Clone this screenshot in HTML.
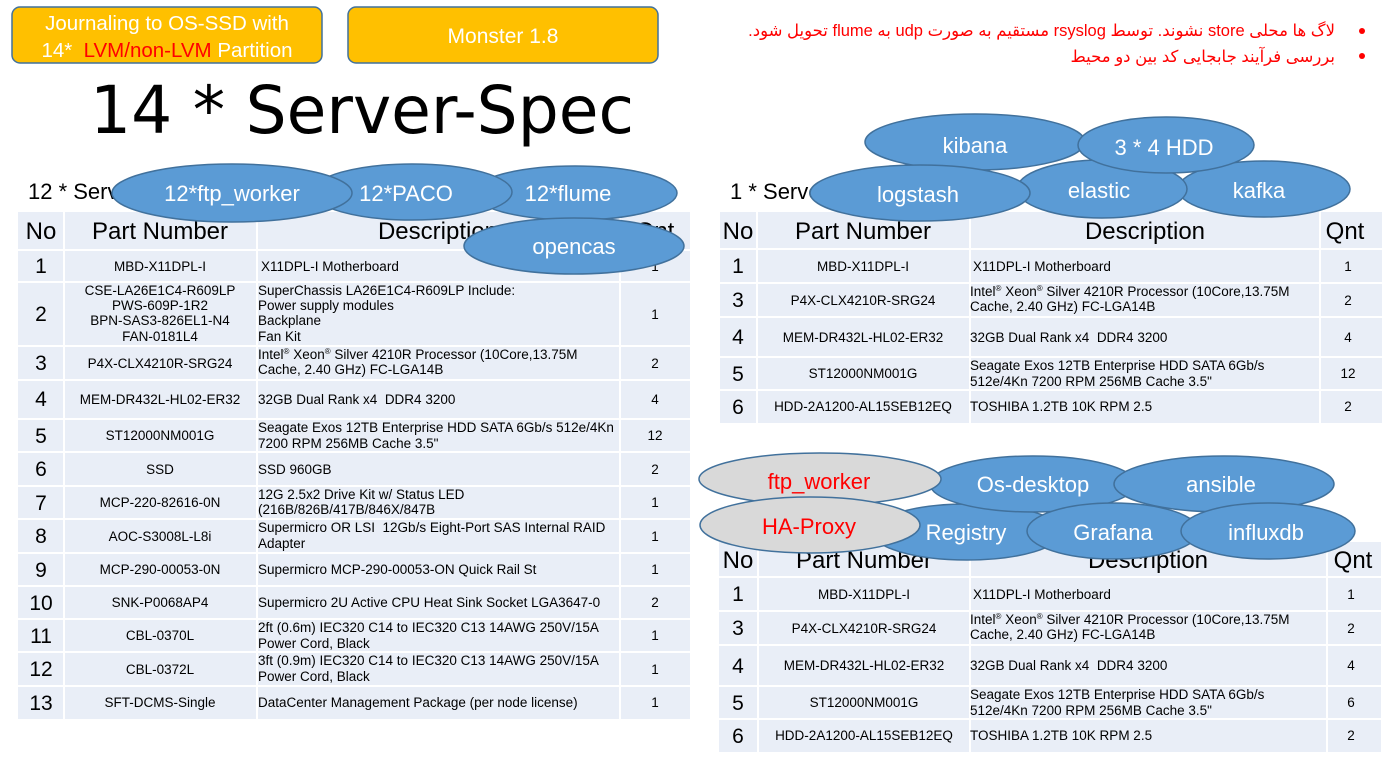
<!DOCTYPE html>
<html><head><meta charset="utf-8">
<style>
html,body{margin:0;padding:0;background:#fff;}
body{width:1396px;height:761px;position:relative;overflow:hidden;}
svg{position:absolute;left:0;top:0;}
svg text{font-family:"Liberation Sans",sans-serif;fill:#000;white-space:pre;}
.pn{font-size:13.5px;text-anchor:middle}
.d{font-size:13.5px}
.q{font-size:13.5px;text-anchor:middle}
.n{font-size:21px;text-anchor:middle}
.h{font-size:24px;text-anchor:middle}
.el{fill:#5B9BD5;stroke:#41719C;stroke-width:1.5}
.gr{fill:#D9D9D9;stroke:#41719C;stroke-width:1.5}
svg text.et{font-size:22px;fill:#fff;text-anchor:middle}
svg text.er{font-size:22px;fill:#FF0000;text-anchor:middle}
.fa{position:absolute;right:61px;top:18px;direction:rtl;text-align:right;color:#FF0000;
 font-family:"Liberation Sans","DejaVu Sans",sans-serif;font-size:16.5px;line-height:26px;white-space:nowrap;}
</style></head>
<body>
<svg width="1396" height="761" viewBox="0 0 1396 761" xmlns="http://www.w3.org/2000/svg">
<!-- top boxes -->
<rect x="12" y="7" width="310" height="56" rx="8" fill="#FFC000" stroke="#41719C" stroke-width="1.5"/>
<text x="167" y="30" text-anchor="middle" style="font-size:20.5px;fill:#fff">Journaling to OS-SSD with</text>
<text x="167" y="57" text-anchor="middle" style="font-size:20.5px;fill:#fff"><tspan style="fill:#fff">14*  </tspan><tspan style="fill:#FF0000">LVM/non-LVM</tspan><tspan style="fill:#fff"> Partition</tspan></text>
<rect x="348" y="7" width="310" height="56" rx="8" fill="#FFC000" stroke="#41719C" stroke-width="1.5"/>
<text x="503" y="43" text-anchor="middle" style="font-size:21px;fill:#fff">Monster 1.8</text>

<!-- title -->
<text x="90" y="133" style="font-family:'DejaVu Sans',sans-serif;font-size:66px" textLength="544" lengthAdjust="spacingAndGlyphs">14 * Server-Spec</text>

<!-- bullets -->
<circle cx="1362" cy="31" r="3" fill="#FF0000"/>
<circle cx="1362" cy="56" r="3" fill="#FF0000"/>

<!-- subtitles -->
<text x="28" y="199" style="font-size:22px">12 * Server</text>
<text x="730" y="199" style="font-size:22px">1 * Server</text>

<!-- LEFT TABLE -->
<rect x="18" y="212" width="672" height="507" fill="#E9EEF7"/>
<g stroke="#fff" stroke-width="2">
<line x1="64" y1="212" x2="64" y2="719"/><line x1="257" y1="212" x2="257" y2="719"/><line x1="620" y1="212" x2="620" y2="719"/>
<line x1="18" y1="250" x2="690" y2="250"/><line x1="18" y1="282" x2="690" y2="282"/><line x1="18" y1="346" x2="690" y2="346"/>
<line x1="18" y1="380" x2="690" y2="380"/><line x1="18" y1="419" x2="690" y2="419"/><line x1="18" y1="452" x2="690" y2="452"/>
<line x1="18" y1="486" x2="690" y2="486"/><line x1="18" y1="519" x2="690" y2="519"/><line x1="18" y1="553" x2="690" y2="553"/>
<line x1="18" y1="586" x2="690" y2="586"/><line x1="18" y1="619" x2="690" y2="619"/><line x1="18" y1="652" x2="690" y2="652"/>
<line x1="18" y1="686" x2="690" y2="686"/>
</g>
<text class="h" x="41" y="239">No</text><text class="h" x="160" y="239">Part Number</text><text class="h" x="438" y="239">Description</text><text class="h" x="655" y="239">Qnt</text>
<!-- r1 -->
<text class="n" x="41" y="273">1</text><text class="pn" x="160" y="271">MBD-X11DPL-I</text><text class="d" x="261" y="271">X11DPL-I Motherboard</text><text class="q" x="655" y="271">1</text>
<!-- r2 -->
<text class="n" x="41" y="321">2</text>
<text class="pn" x="160" y="295">CSE-LA26E1C4-R609LP</text><text class="pn" x="160" y="310">PWS-609P-1R2</text><text class="pn" x="160" y="325">BPN-SAS3-826EL1-N4</text><text class="pn" x="160" y="341">FAN-0181L4</text>
<text class="d" x="258" y="295">SuperChassis LA26E1C4-R609LP Include:</text><text class="d" x="258" y="310">Power supply modules</text><text class="d" x="258" y="325">Backplane</text><text class="d" x="258" y="341">Fan Kit</text>
<text class="q" x="655" y="319">1</text>
<!-- r3 -->
<text class="n" x="41" y="370">3</text><text class="pn" x="160" y="368">P4X-CLX4210R-SRG24</text>
<text class="d" x="258" y="359">Intel<tspan font-size="8" dy="-5">®</tspan><tspan dy="5"> Xeon</tspan><tspan font-size="8" dy="-5">®</tspan><tspan dy="5"> Silver 4210R Processor (10Core,13.75M</tspan></text>
<text class="d" x="258" y="374">Cache, 2.40 GHz) FC-LGA14B</text>
<text class="q" x="655" y="368">2</text>
<!-- r4 -->
<text class="n" x="41" y="406">4</text><text class="pn" x="160" y="404">MEM-DR432L-HL02-ER32</text><text class="d" x="258" y="404">32GB Dual Rank x4  DDR4 3200</text><text class="q" x="655" y="404">4</text>
<!-- r5 -->
<text class="n" x="41" y="443">5</text><text class="pn" x="160" y="440">ST12000NM001G</text>
<text class="d" x="258" y="432">Seagate Exos 12TB Enterprise HDD SATA 6Gb/s 512e/4Kn</text><text class="d" x="258" y="448">7200 RPM 256MB Cache 3.5"</text>
<text class="q" x="655" y="440">12</text>
<!-- r6 -->
<text class="n" x="41" y="476">6</text><text class="pn" x="160" y="474">SSD</text><text class="d" x="258" y="474">SSD 960GB</text><text class="q" x="655" y="474">2</text>
<!-- r7 -->
<text class="n" x="41" y="510">7</text><text class="pn" x="160" y="507">MCP-220-82616-0N</text>
<text class="d" x="258" y="499">12G 2.5x2 Drive Kit w/ Status LED</text><text class="d" x="258" y="514">(216B/826B/417B/846X/847B</text>
<text class="q" x="655" y="507">1</text>
<!-- r8 -->
<text class="n" x="41" y="543">8</text><text class="pn" x="160" y="541">AOC-S3008L-L8i</text>
<text class="d" x="258" y="532">Supermicro OR LSI  12Gb/s Eight-Port SAS Internal RAID</text><text class="d" x="258" y="548">Adapter</text>
<text class="q" x="655" y="541">1</text>
<!-- r9 -->
<text class="n" x="41" y="577">9</text><text class="pn" x="160" y="574">MCP-290-00053-0N</text><text class="d" x="258" y="574">Supermicro MCP-290-00053-ON Quick Rail St</text><text class="q" x="655" y="574">1</text>
<!-- r10 -->
<text class="n" x="41" y="610">10</text><text class="pn" x="160" y="607">SNK-P0068AP4</text><text class="d" x="258" y="607">Supermicro 2U Active CPU Heat Sink Socket LGA3647-0</text><text class="q" x="655" y="607">2</text>
<!-- r11 -->
<text class="n" x="41" y="643">11</text><text class="pn" x="160" y="640">CBL-0370L</text>
<text class="d" x="258" y="632">2ft (0.6m) IEC320 C14 to IEC320 C13 14AWG 250V/15A</text><text class="d" x="258" y="648">Power Cord, Black</text>
<text class="q" x="655" y="640">1</text>
<!-- r12 -->
<text class="n" x="41" y="676">12</text><text class="pn" x="160" y="674">CBL-0372L</text>
<text class="d" x="258" y="665">3ft (0.9m) IEC320 C14 to IEC320 C13 14AWG 250V/15A</text><text class="d" x="258" y="681">Power Cord, Black</text>
<text class="q" x="655" y="674">1</text>
<!-- r13 -->
<text class="n" x="41" y="710">13</text><text class="pn" x="160" y="707">SFT-DCMS-Single</text><text class="d" x="258" y="707">DataCenter Management Package (per node license)</text><text class="q" x="655" y="707">1</text>

<!-- RIGHT TABLE 1 -->
<rect x="720" y="212" width="662" height="211" fill="#E9EEF7"/>
<g stroke="#fff" stroke-width="2">
<line x1="757" y1="212" x2="757" y2="423"/><line x1="970" y1="212" x2="970" y2="423"/><line x1="1320" y1="212" x2="1320" y2="423"/>
<line x1="720" y1="249" x2="1382" y2="249"/><line x1="720" y1="283" x2="1382" y2="283"/><line x1="720" y1="317" x2="1382" y2="317"/>
<line x1="720" y1="357" x2="1382" y2="357"/><line x1="720" y1="390" x2="1382" y2="390"/>
</g>
<text class="h" x="738" y="239">No</text><text class="h" x="863" y="239">Part Number</text><text class="h" x="1145" y="239">Description</text><text class="h" x="1345" y="239">Qnt</text>
<text class="n" x="738" y="273">1</text><text class="pn" x="863" y="271">MBD-X11DPL-I</text><text class="d" x="973" y="271">X11DPL-I Motherboard</text><text class="q" x="1348" y="271">1</text>
<text class="n" x="738" y="307">3</text><text class="pn" x="863" y="305">P4X-CLX4210R-SRG24</text>
<text class="d" x="970" y="296">Intel<tspan font-size="8" dy="-5">®</tspan><tspan dy="5"> Xeon</tspan><tspan font-size="8" dy="-5">®</tspan><tspan dy="5"> Silver 4210R Processor (10Core,13.75M</tspan></text>
<text class="d" x="970" y="311">Cache, 2.40 GHz) FC-LGA14B</text>
<text class="q" x="1348" y="305">2</text>
<text class="n" x="738" y="344">4</text><text class="pn" x="863" y="342">MEM-DR432L-HL02-ER32</text><text class="d" x="970" y="342">32GB Dual Rank x4  DDR4 3200</text><text class="q" x="1348" y="342">4</text>
<text class="n" x="738" y="381">5</text><text class="pn" x="863" y="378">ST12000NM001G</text>
<text class="d" x="970" y="370">Seagate Exos 12TB Enterprise HDD SATA 6Gb/s</text><text class="d" x="970" y="386">512e/4Kn 7200 RPM 256MB Cache 3.5"</text>
<text class="q" x="1348" y="378">12</text>
<text class="n" x="738" y="414">6</text><text class="pn" x="863" y="411">HDD-2A1200-AL15SEB12EQ</text><text class="d" x="970" y="411">TOSHIBA 1.2TB 10K RPM 2.5</text><text class="q" x="1348" y="411">2</text>

<!-- RIGHT TABLE 2 -->
<rect x="719" y="542" width="662" height="210" fill="#E9EEF7"/>
<g stroke="#fff" stroke-width="2">
<line x1="758" y1="542" x2="758" y2="752"/><line x1="970" y1="542" x2="970" y2="752"/><line x1="1327" y1="542" x2="1327" y2="752"/>
<line x1="719" y1="577" x2="1381" y2="577"/><line x1="719" y1="611" x2="1381" y2="611"/><line x1="719" y1="645" x2="1381" y2="645"/>
<line x1="719" y1="686" x2="1381" y2="686"/><line x1="719" y1="719" x2="1381" y2="719"/>
</g>
<text class="h" x="738" y="568">No</text><text class="h" x="864" y="568">Part Number</text><text class="h" x="1148" y="568">Description</text><text class="h" x="1353" y="568">Qnt</text>
<text class="n" x="738" y="601">1</text><text class="pn" x="864" y="599">MBD-X11DPL-I</text><text class="d" x="973" y="599">X11DPL-I Motherboard</text><text class="q" x="1351" y="599">1</text>
<text class="n" x="738" y="635">3</text><text class="pn" x="864" y="633">P4X-CLX4210R-SRG24</text>
<text class="d" x="970" y="624">Intel<tspan font-size="8" dy="-5">®</tspan><tspan dy="5"> Xeon</tspan><tspan font-size="8" dy="-5">®</tspan><tspan dy="5"> Silver 4210R Processor (10Core,13.75M</tspan></text>
<text class="d" x="970" y="639">Cache, 2.40 GHz) FC-LGA14B</text>
<text class="q" x="1351" y="633">2</text>
<text class="n" x="738" y="673">4</text><text class="pn" x="864" y="670">MEM-DR432L-HL02-ER32</text><text class="d" x="970" y="670">32GB Dual Rank x4  DDR4 3200</text><text class="q" x="1351" y="670">4</text>
<text class="n" x="738" y="710">5</text><text class="pn" x="864" y="707">ST12000NM001G</text>
<text class="d" x="970" y="699">Seagate Exos 12TB Enterprise HDD SATA 6Gb/s</text><text class="d" x="970" y="715">512e/4Kn 7200 RPM 256MB Cache 3.5"</text>
<text class="q" x="1351" y="707">6</text>
<text class="n" x="738" y="743">6</text><text class="pn" x="864" y="740">HDD-2A1200-AL15SEB12EQ</text><text class="d" x="970" y="740">TOSHIBA 1.2TB 10K RPM 2.5</text><text class="q" x="1351" y="740">2</text>

<!-- LEFT ELLIPSES -->
<ellipse class="el" cx="575" cy="193" rx="102" ry="27"/>
<ellipse class="el" cx="574" cy="246" rx="110" ry="28"/>
<ellipse class="el" cx="412" cy="192" rx="100" ry="28"/>
<ellipse class="el" cx="232" cy="193" rx="120" ry="29"/>
<text class="et" x="232" y="201">12*ftp_worker</text>
<text class="et" x="406" y="201">12*PACO</text>
<text class="et" x="568" y="201">12*flume</text>
<text class="et" x="574" y="254">opencas</text>

<!-- RIGHT TOP ELLIPSES -->
<ellipse class="el" cx="1264" cy="189" rx="86" ry="28"/>
<ellipse class="el" cx="1102" cy="189" rx="85" ry="29"/>
<ellipse class="el" cx="975" cy="142" rx="110" ry="28"/>
<ellipse class="el" cx="1166" cy="145" rx="88" ry="28"/>
<ellipse class="el" cx="920" cy="193" rx="110" ry="28"/>
<text class="et" x="975" y="153">kibana</text>
<text class="et" x="1164" y="155">3 * 4 HDD</text>
<text class="et" x="918" y="202">logstash</text>
<text class="et" x="1099" y="198">elastic</text>
<text class="et" x="1259" y="198">kafka</text>

<!-- RIGHT BOTTOM ELLIPSES -->
<ellipse class="el" cx="967" cy="532" rx="95" ry="28"/>
<ellipse class="el" cx="1033" cy="484" rx="103" ry="28"/>
<ellipse class="el" cx="1224" cy="484" rx="110" ry="28"/>
<ellipse class="el" cx="1113" cy="531" rx="86" ry="28"/>
<ellipse class="el" cx="1268" cy="531" rx="87" ry="28"/>
<ellipse class="gr" cx="820" cy="479" rx="121" ry="26"/>
<ellipse class="gr" cx="810" cy="525" rx="110" ry="28"/>
<text class="er" x="819" y="489">ftp_worker</text>
<text class="er" x="809" y="534">HA-Proxy</text>
<text class="et" x="1033" y="492">Os-desktop</text>
<text class="et" x="1221" y="492">ansible</text>
<text class="et" x="966" y="540">Registry</text>
<text class="et" x="1113" y="540">Grafana</text>
<text class="et" x="1266" y="540">influxdb</text>
</svg>

<div class="fa">لاگ ها محلی store نشوند. توسط rsyslog مستقیم به صورت udp به flume تحویل شود.<br>بررسی فرآیند جابجایی کد بین دو محیط</div>
</body></html>
